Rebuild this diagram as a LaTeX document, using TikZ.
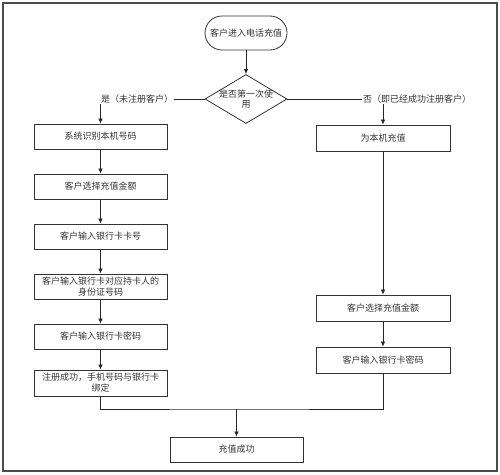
\documentclass[tikz,border=0pt]{standalone}
\usepackage{fontspec}
\setmainfont{Noto Sans CJK SC}
\usetikzlibrary{arrows.meta,shapes.geometric}
\tikzset{
  box/.style={draw=black!80, line width=0.8pt, minimum width=133pt, minimum height=25pt, inner sep=0pt, align=center, font=\fontsize{9}{11}\selectfont, text=black!80},
  lbl/.style={fill=white, inner sep=1pt, font=\fontsize{9}{11}\selectfont, text=black!80},
  conn/.style={draw=black!85, line width=0.7pt},
  arr/.style={conn, -{Latex[length=5pt,width=4.5pt]}}
}
\begin{document}
\begin{tikzpicture}[x=1pt,y=-1pt]
\useasboundingbox (0,0) rectangle (500,474);
\draw[black!70, line width=1.2pt] (3,3) rectangle (497,471);
% start
\node[box, minimum width=82pt, minimum height=34pt, rounded corners=17pt] (s) at (246,33) {客户进入电话充值};
% decision
\node[draw=black!80, line width=0.8pt, diamond, minimum width=82pt, minimum height=49pt, inner sep=0pt] (d) at (246,99) {};
\node[font=\fontsize{9}{10.5}\selectfont, text=black!80, align=center, inner sep=0pt] (dt) at (246,99) {是否第一次使\\用};
% left column
\node[box] (L1) at (100.5,136.5) {系统识别本机号码};
\node[box] (L2) at (100.5,186.5) {客户选择充值金额};
\node[box] (L3) at (100.5,236.5) {客户输入银行卡卡号};
\node[box] (L4) at (100.5,286.5) {客户输入银行卡对应持卡人的\\身份证号码};
\node[box] (L5) at (100.5,336.5) {客户输入银行卡密码};
\node[box, minimum height=26pt] (L6) at (100.5,383) {注册成功，手机号码与银行卡\\绑定};
% right column
\node[box, minimum width=134pt, minimum height=26pt] (R1) at (383,138) {为本机充值};
\node[box, minimum width=134pt, minimum height=26pt] (R2) at (383,308) {客户选择充值金额};
\node[box, minimum width=134pt, minimum height=26pt] (R3) at (383,360) {客户输入银行卡密码};
% final
\node[box] (F) at (236.5,449.5) {充值成功};
\coordinate (cl) at (100.5,99);
\coordinate (cr) at (383,99);
\coordinate (m) at (236.5,409);
% connectors
\draw[arr] (s) -- (d);
\draw[arr] (d.west) -- (cl) -- (L1);
\draw[arr] (d.east) -- (cr) -- (R1);
\draw[arr] (L1) -- (L2);
\draw[arr] (L2) -- (L3);
\draw[arr] (L3) -- (L4);
\draw[arr] (L4) -- (L5);
\draw[arr] (L5) -- (L6);
\draw[arr] (R1) -- (R2);
\draw[arr] (R2) -- (R3);
\draw[conn] (L6.south) |- (m) -| (R3.south);
\draw[arr] (m) -- (F);
% labels
\node[lbl] (yl) at (137,99) {是（未注册客户）};
\node[lbl] (nl) at (417,99) {否（即已经成功注册客户）};
\end{tikzpicture}
\end{document}
